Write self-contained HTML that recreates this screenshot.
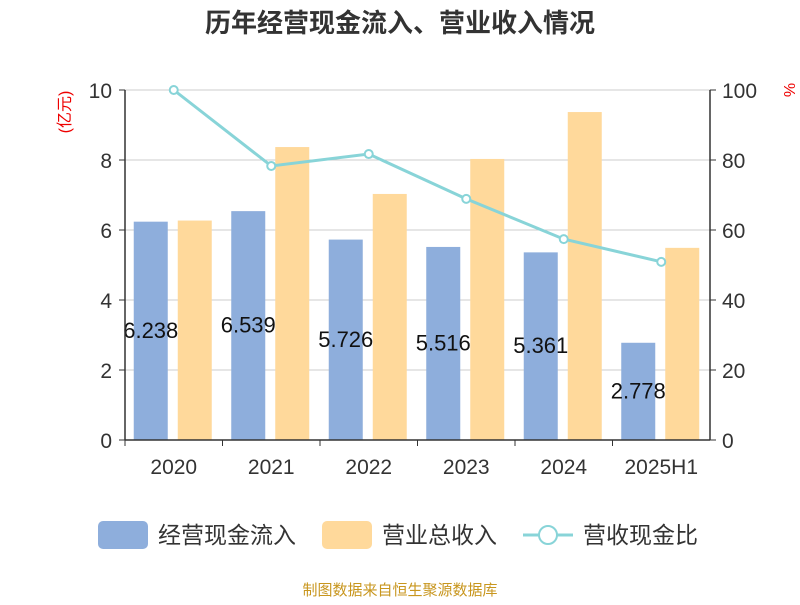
<!DOCTYPE html>
<html><head><meta charset="utf-8"><style>
body{margin:0;background:#fff;width:800px;height:600px;overflow:hidden}
svg text{font-family:"Liberation Sans","Noto Sans CJK SC",sans-serif}
</style></head><body>
<svg id="c" width="800" height="600">
<text x="400" y="32" text-anchor="middle" font-size="26" font-weight="bold" fill="#333">历年经营现金流入、营业收入情况</text>
<text transform="translate(70,112) rotate(-90)" text-anchor="middle" font-size="16" fill="#e00">(亿元)</text>
<text transform="translate(784,90) rotate(90)" text-anchor="middle" font-size="16" fill="#e00">%</text>
<g id="grid"></g><g id="bars"></g><g id="line"></g><g id="axes"></g>
<g>
<rect x="98" y="521" width="50" height="28" rx="5" fill="#8eaedc"/>
<text x="158" y="543" font-size="23" fill="#333">经营现金流入</text>
<rect x="322" y="521" width="50" height="28" rx="5" fill="#ffd99b"/>
<text x="382" y="543" font-size="23" fill="#333">营业总收入</text>
<line x1="523" y1="535" x2="573" y2="535" stroke="#88d4d8" stroke-width="3"/>
<circle cx="548" cy="535" r="9" fill="#fff" stroke="#88d4d8" stroke-width="2"/>
<text x="583" y="543" font-size="23" fill="#333">营收现金比</text>
</g>
<text x="400" y="595" text-anchor="middle" font-size="15" fill="#c8961e">制图数据来自恒生聚源数据库</text>
</svg>
<script>
const categories=["2020","2021","2022","2023","2024","2025H1"];
const cashInflow=[6.238,6.539,5.726,5.516,5.361,2.778];
const revenue=[6.27,8.37,7.03,8.03,9.37,5.49];
const ratio=[100,78.3,81.7,68.9,57.4,50.9];
const leftTicks=[0,2,4,6,8,10];
const rightTicks=[0,20,40,60,80,100];
const NS="http://www.w3.org/2000/svg";
const X0=125,X1=710,Y0=440,Y1=90;
const band=(X1-X0)/categories.length;
const xc=i=>X0+band*(i+0.5);
const yL=v=>Y0-(v/10)*(Y0-Y1);
const yR=v=>Y0-(v/100)*(Y0-Y1);
function mk(tag,attrs,parent,txt){const e=document.createElementNS(NS,tag);for(const k in attrs)e.setAttribute(k,attrs[k]);if(txt!==undefined)e.textContent=txt;document.getElementById(parent).appendChild(e);return e;}
leftTicks.forEach((t,i)=>{
 if(t>0){const g=mk('line',{x1:X0,x2:X1,y1:yL(t),y2:yL(t),stroke:'#ccc','stroke-width':1},'grid');
 
 }
 const l=mk('text',{x:X0-13,y:yL(t)+8,'text-anchor':'end','font-size':21,fill:'#333'},'axes',t);
 
 
 const tk=mk('line',{x1:X0-6,x2:X0,y1:yL(t),y2:yL(t),stroke:'#333'},'axes');
 
 
});
rightTicks.forEach(t=>{
 const l=mk('text',{x:X1+12,y:yR(t)+8,'font-size':21,fill:'#333'},'axes',t);
 
 
 const tk=mk('line',{x1:X1,x2:X1+6,y1:yR(t),y2:yR(t),stroke:'#333'},'axes');
 
 
});
[[X0,Y1,X0,Y0],[X1,Y1,X1,Y0],[X0,Y0,X1,Y0]].forEach(a=>{
 const l=mk('line',{x1:a[0],y1:a[1],x2:a[2],y2:a[3],stroke:'#333','stroke-width':1.5},'axes');
 
 
});
categories.forEach((c,i)=>{
 const tk=mk('line',{x1:X0+band*i,x2:X0+band*i,y1:Y0,y2:Y0+6,stroke:'#333'},'axes');
 
 
 const l=mk('text',{x:xc(i),y:Y0+34,'text-anchor':'middle','font-size':21,fill:'#333'},'axes',c);
 
 
 const b=mk('rect',{x:xc(i)-40,y:yL(cashInflow[i]),width:34,height:Y0-yL(cashInflow[i]),fill:'#8eaedc'},'bars');
 
 
 const r=mk('rect',{x:xc(i)+4,y:yL(revenue[i]),width:34,height:Y0-yL(revenue[i]),fill:'#ffd99b'},'bars');
 
 
});
categories.forEach((c,i)=>{
 const v=mk('text',{x:xc(i)-23,y:(yL(cashInflow[i])+Y0)/2+7,'text-anchor':'middle','font-size':22,fill:'#111'},'bars',cashInflow[i].toFixed(3));
 
 
});
const p=mk('polyline',{points:ratio.map((v,i)=>xc(i)+','+yR(v)).join(' '),fill:'none',stroke:'#88d4d8','stroke-width':3},'line');


ratio.forEach((v,i)=>{
 const d=mk('circle',{cx:xc(i),cy:yR(v),r:4,fill:'#fff',stroke:'#88d4d8','stroke-width':2},'line');
 
 
});
</script>
</body></html>
